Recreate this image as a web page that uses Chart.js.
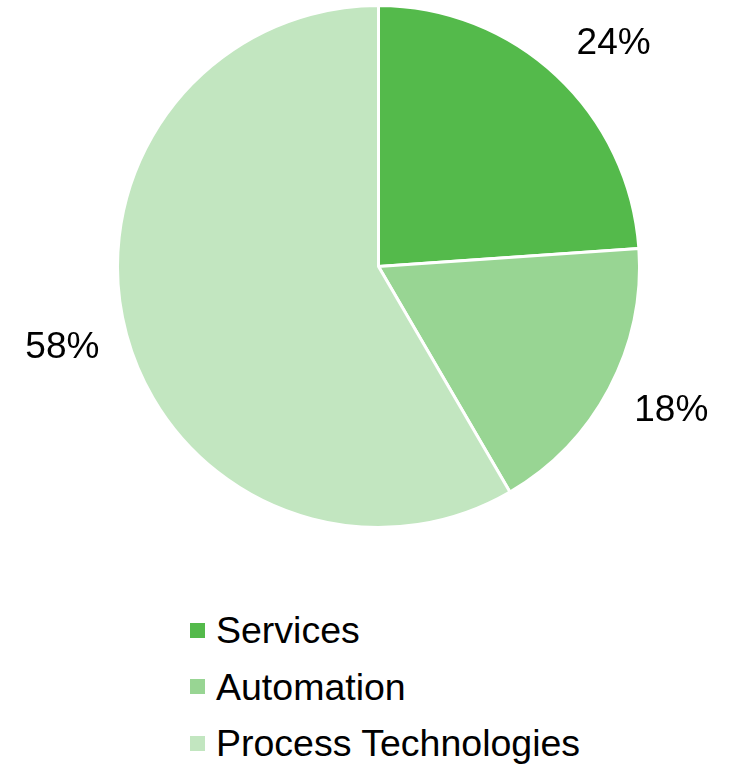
<!DOCTYPE html>
<html>
<head>
<meta charset="utf-8">
<script src="https://cdn.jsdelivr.net/npm/chart.js@4"></script>
<style>
    body { margin: 0; background: #fff; font-family: "Liberation Sans", Arial, sans-serif; }
    #wrap { position: relative; width: 736px; height: 533px; }
    #legenda { position: absolute; left: 190px; top: 602px; }
    .item { display: flex; align-items: center; height: 56.5px; font-size: 37.5px; line-height: 56.5px; color: #000; }
    .caixa { width: 15px; height: 15px; margin-right: 11px; }
</style>
</head>
<body>
<div id="wrap"><canvas id="graficoPizza"></canvas></div>
<div id="legenda"></div>

<script>
const categorias = ['Services', 'Automation', 'Process Technologies'];
const valores = [23.9, 17.7, 58.4];
const cores = ['#54BA4B', '#98D593', '#C2E6C0'];

// rotulos de porcentagem fora da pizza
const rotulosFora = {
    id: 'rotulosFora',
    afterDatasetsDraw(chart) {
        const c = chart.ctx;
        const dados = chart.data.datasets[0].data;
        const total = dados.reduce((a, b) => a + b, 0);
        c.save();
        c.font = '37px "Liberation Sans", Arial, sans-serif';
        c.fillStyle = '#000';
        c.textAlign = 'center';
        c.textBaseline = 'middle';
        chart.getDatasetMeta(0).data.forEach((arco, i) => {
            const p = arco.getProps(['x', 'y', 'startAngle', 'endAngle', 'outerRadius'], true);
            const meio = (p.startAngle + p.endAngle) / 2;
            const ux = Math.cos(meio);
            const uy = Math.sin(meio);
            const d = p.outerRadius + 25;
            const texto = Math.round(dados[i] / total * 100) + '%';
            const w = c.measureText(texto).width;
            const x = p.x + ux * d + Math.sign(ux) * (w / 2 + 3);
            const y = p.y + uy * d + uy * 20;
            c.fillText(texto, x, y + 1);
        });
        c.restore();
    }
};

const ctx = document.getElementById('graficoPizza');

const grafico = new Chart(ctx, {
    type: 'pie',

    data: {
        labels: categorias,
        datasets: [{
            data: valores,
            backgroundColor: cores,
            borderColor: '#ffffff',
            borderWidth: 3
        }]
    },

    options: {
        responsive: true,
        maintainAspectRatio: false,
        animation: false,
        radius: 261,
        layout: {
            padding: { left: 21, right: 0, top: 0, bottom: 0 }
        },
        plugins: {
            legend: { display: false },
            tooltip: { enabled: false }
        }
    },

    plugins: [rotulosFora]
});

// legenda vertical em html
const legenda = document.getElementById('legenda');
categorias.forEach((nome, i) => {
    const item = document.createElement('div');
    item.className = 'item';
    const caixa = document.createElement('span');
    caixa.className = 'caixa';
    caixa.style.background = cores[i];
    const texto = document.createElement('span');
    texto.textContent = nome;
    item.appendChild(caixa);
    item.appendChild(texto);
    legenda.appendChild(item);
});
</script>
</body>
</html>
